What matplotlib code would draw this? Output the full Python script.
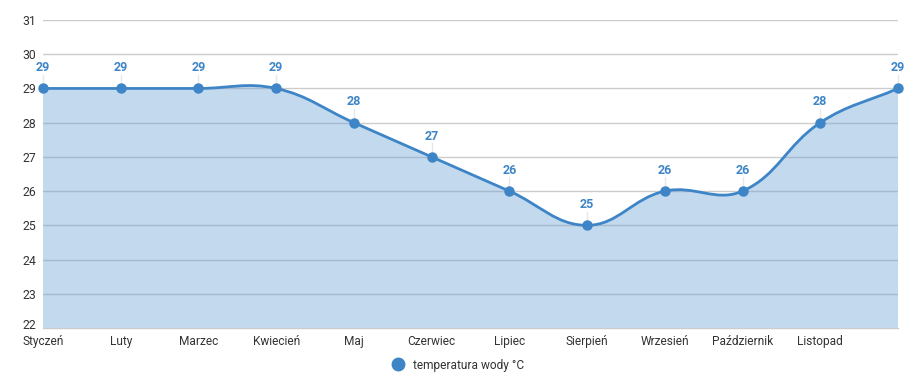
import numpy as np
import matplotlib
matplotlib.use("Agg")
import matplotlib.pyplot as plt
from matplotlib.path import Path
from matplotlib.patches import PathPatch
from matplotlib.lines import Line2D
import matplotlib.transforms as mtransforms

months = ["Styczeń", "Luty", "Marzec", "Kwiecień", "Maj", "Czerwiec", "Lipiec",
          "Sierpień", "Wrzesień", "Październik", "Listopad", "Grudzień"]
shown_labels = ["Styczeń", "Luty", "Marzec", "Kwiecień", "Maj", "Czerwiec", "Lipiec",
                "Sierpień", "Wrzesień", "Październik", "Listopad", ""]
temps = [29, 29, 29, 29, 28, 27, 26, 25, 26, 26, 28, 29]
yticks = [22, 23, 24, 25, 26, 27, 28, 29, 30, 31]
series_name = "temperatura wody °C"

plt.rcParams['font.family'] = ['Roboto', 'DejaVu Sans']

W, H = 916, 387
fig = plt.figure(figsize=(W / 100, H / 100), dpi=100)
left, right, top, bottom = 43, 898, 20, 328
ax = fig.add_axes([left / W, 1 - bottom / H, (right - left) / W, (bottom - top) / H])

line_color = "#3d85c6"
fill_color = "#c3d9ee"

x = np.arange(len(temps), dtype=float)
y = np.array(temps, dtype=float)
ax.set_xlim(0, len(temps) - 1)
ax.set_ylim(22, 31)

# pixel scale for Chart.js-like spline
sx = (right - left) / (len(temps) - 1)
sy = (bottom - top) / 9.0
px = x * sx
py = y * sy
t = 0.4
n = len(px)
cp_prev = np.zeros((n, 2))
cp_next = np.zeros((n, 2))
for i in range(n):
    p0 = (px[max(i - 1, 0)], py[max(i - 1, 0)])
    p1 = (px[i], py[i])
    p2 = (px[min(i + 1, n - 1)], py[min(i + 1, n - 1)])
    d01 = np.hypot(p1[0] - p0[0], p1[1] - p0[1])
    d12 = np.hypot(p2[0] - p1[0], p2[1] - p1[1])
    s01 = d01 / (d01 + d12) if d01 + d12 else 0
    s12 = d12 / (d01 + d12) if d01 + d12 else 0
    fa, fb = t * s01, t * s12
    cp_prev[i] = (p1[0] - fa * (p2[0] - p0[0]), p1[1] - fa * (p2[1] - p0[1]))
    cp_next[i] = (p1[0] + fb * (p2[0] - p0[0]), p1[1] + fb * (p2[1] - p0[1]))

verts = [(x[0], y[0])]
codes = [Path.MOVETO]
for i in range(n - 1):
    verts += [(cp_next[i][0] / sx, cp_next[i][1] / sy),
              (cp_prev[i + 1][0] / sx, cp_prev[i + 1][1] / sy),
              (x[i + 1], y[i + 1])]
    codes += [Path.CURVE4] * 3
line_path = Path(verts, codes)
fill_verts = verts + [(x[-1], 22), (x[0], 22), (x[0], y[0])]
fill_codes = codes + [Path.LINETO, Path.LINETO, Path.CLOSEPOLY]

for yt in yticks[1:]:
    ax.axhline(yt, color="#cccccc", lw=1, zorder=0)

fill_patch = PathPatch(Path(fill_verts, fill_codes), facecolor=fill_color,
                       edgecolor="none", zorder=1)
ax.add_patch(fill_patch)
for yt in yticks[1:]:
    gl = ax.axhline(yt, color="#a6bacf", lw=1, zorder=1.5)
    gl.set_clip_path(fill_patch)
ax.add_patch(PathPatch(line_path, facecolor="none", edgecolor=line_color,
                       lw=2, zorder=3, clip_on=False))
ax.plot(x, y, 'o', color=line_color, ms=6.5, zorder=4, clip_on=False)

# value labels with faint connector lines
for xi, yi in zip(x, y):
    ax.plot([xi, xi], [yi, yi + 0.4], color="#e8e8e8", lw=1, zorder=2.5, clip_on=False)
    ax.text(xi, yi + 0.42, f"{int(yi)}", ha="center", va="bottom", color=line_color,
            fontsize=9, fontweight="bold", zorder=5, clip_on=False)

for s in ["top", "right", "left"]:
    ax.spines[s].set_visible(False)
ax.spines["bottom"].set_color("#cccccc")
ax.spines["bottom"].set_linewidth(1)

ax.set_yticks(yticks)
ax.set_yticklabels([str(v) for v in yticks], fontsize=8.8, color="#333333")
ax.set_xticks(x)
ax.set_xticklabels(shown_labels, fontsize=8.6, color="#333333")
ax.tick_params(axis="both", length=0)
ax.tick_params(axis="y", pad=5)
ax.tick_params(axis="x", pad=5)
# nudge lowest y label up a bit (as in reference)
ylabs = ax.get_yticklabels()
ylabs[0].set_transform(ylabs[0].get_transform() +
                       mtransforms.ScaledTranslation(0, 4 / 100, fig.dpi_scale_trans))

handle = Line2D([], [], marker='o', color=line_color, linestyle='none', markersize=9)
fig.legend([handle], [series_name], loc="center", bbox_to_anchor=(455 / W, 1 - 365 / H),
           frameon=False, fontsize=8.6, handletextpad=0.2, labelcolor="#333333")

fig.savefig("out.png", dpi=100)
